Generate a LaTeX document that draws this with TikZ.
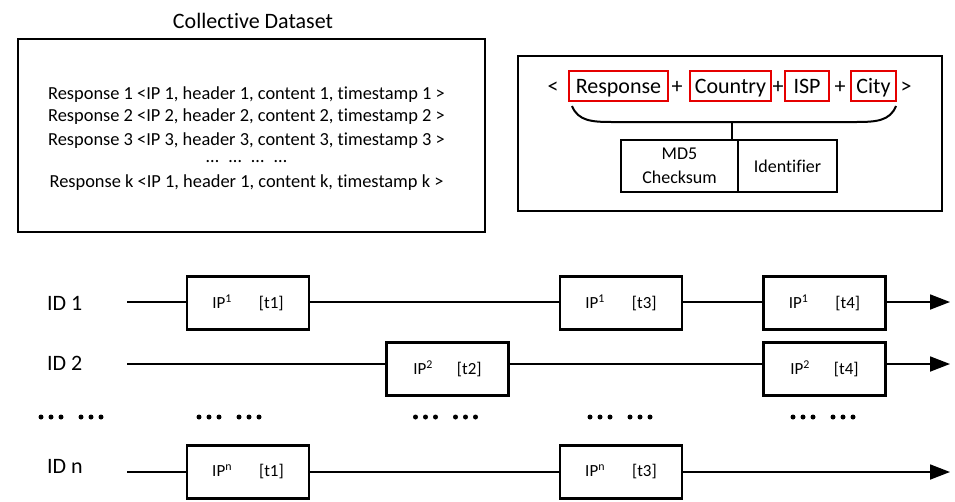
\documentclass[tikz,border=0pt]{standalone}
\usepackage{fontspec}
\setmainfont[Ligatures=NoCommon]{Carlito}
\usetikzlibrary{arrows.meta,calc}
\begin{document}
\begin{tikzpicture}[x=1pt,y=-1pt,
  frame/.style={draw,line width=2.8pt,inner sep=0pt},
  cell/.style={draw,line width=2.4pt,inner sep=0pt,minimum height=52pt,
    font=\fontsize{18}{24}\selectfont,align=center},
  redbox/.style={draw=red!90!black,line width=2pt,inner sep=0pt,minimum height=30pt,
    font=\fontsize{22}{26}\selectfont,text height=16pt,text depth=2pt},
  sym/.style={inner sep=0pt,font=\fontsize{22}{26}\selectfont,text height=16pt,text depth=2pt},
  resp/.style={anchor=base,inner sep=0pt,font=\fontsize{18.4}{22}\selectfont},
  idlab/.style={anchor=base west,inner sep=0pt,font=\fontsize{22}{26}\selectfont},
  tbox/.style={draw,line width=2.6pt,inner sep=0pt,minimum width=122pt,minimum height=53pt,
    font=\fontsize{17}{20}\selectfont},
  tline/.style={line width=1.8pt},
  tarrow/.style={line width=1.8pt,-{Triangle[length=20pt,width=15pt]}}
]
\useasboundingbox (0,0) rectangle (955,501);

% ---------- collective dataset ----------
\node[anchor=base,inner sep=0pt,font=\fontsize{22}{26}\selectfont] (title) at (253,28) {Collective Dataset};
\node[frame,minimum width=467pt,minimum height=193pt] (ds) at (251.5,135.5) {};
\node[resp] (r1) at (246.5,99)  {Response 1 <IP 1, header 1, content 1, timestamp 1 >};
\node[resp] (r2) at (246.5,121.5) {Response 2 <IP 2, header 2, content 2, timestamp 2 >};
\node[resp] (r3) at (246.5,145) {Response 3 <IP 3, header 3, content 3, timestamp 3 >};
\node[resp,text height=3pt,text depth=0pt] (rd) at (246.5,162) {…\hspace{10pt}…\hspace{10pt}…\hspace{10pt}…};
\node[resp] (rk) at (246.5,187) {Response k <IP 1, header 1, content k, timestamp k >};

% ---------- identifier construction ----------
\node[frame,minimum width=424pt,minimum height=155pt] (key) at (730,133.5) {};
\node[sym] (lt) at (553,86) {<};
\node[redbox,minimum width=99pt] (fresp) at (618.5,86) {Response};
\node[sym] (p1) at (677,86) {+};
\node[redbox,minimum width=81pt] (fcountry) at (730.5,86) {Country};
\node[sym] (p2) at (778,86) {+};
\node[redbox,minimum width=44pt] (fisp) at (807,86) {ISP};
\node[sym] (p3) at (840,86) {+};
\node[redbox,minimum width=45pt] (fcity) at (873.5,86) {City};
\node[sym] (gt) at (906,86) {>};

\node[cell,minimum width=117pt] (md5) at (679.5,166) {MD5\\Checksum};
\node[cell,minimum width=99pt] (ident) at (787.5,166) {Identifier};

\coordinate (bl) at (572,106);
\coordinate (br) at (896,106);
\coordinate (stem) at (732,122);
\draw[line width=2pt] (bl) .. controls (578,121) and (592,122) .. (612,122)
  -- (856,122) .. controls (876,122) and (890,121) .. (br);
\draw[line width=2pt] (stem) -- (stem |- md5.north);

% ---------- timelines ----------
\node[idlab] (id1) at (47,310) {ID 1};
\node[idlab] (id2) at (47,370) {ID 2};
\node[idlab] (idn) at (47,473) {ID n};

\coordinate (s1) at (127,302);
\coordinate (e1) at (950,302);
\coordinate (s2) at (127,364);
\coordinate (e2) at (950,364);
\coordinate (sn) at (127,472);
\coordinate (en) at (950,472);

\node[tbox] (b11) at (248,303) {IP\textsuperscript{1}\hspace{27pt}[t1]};
\node[tbox] (b12) at (621,303) {IP\textsuperscript{1}\hspace{27pt}[t3]};
\node[tbox] (b13) at (824.5,303) {IP\textsuperscript{1}\hspace{27pt}[t4]};

\node[tbox] (b21) at (447.5,369) {IP\textsuperscript{2}\hspace{24pt}[t2]};
\node[tbox] (b22) at (824.5,369) {IP\textsuperscript{2}\hspace{24pt}[t4]};

\node[tbox] (bn1) at (248,472) {IP\textsuperscript{n}\hspace{27pt}[t1]};
\node[tbox] (bn2) at (621,472) {IP\textsuperscript{n}\hspace{27pt}[t3]};

\draw[tline] (s1) -- (s1 -| b11.west);
\draw[tline] (b11.east |- s1) -- (b12.west |- s1);
\draw[tline] (b12.east |- s1) -- (b13.west |- s1);
\draw[tarrow] (b13.east |- s1) -- (e1);

\draw[tline] (s2) -- (s2 -| b21.west);
\draw[tline] (b21.east |- s2) -- (b22.west |- s2);
\draw[tarrow] (b22.east |- s2) -- (e2);

\draw[tline] (sn) -- (sn -| bn1.west);
\draw[tline] (bn1.east |- sn) -- (bn2.west |- sn);
\draw[tarrow] (bn2.east |- sn) -- (en);

% rows of dots between ID 2 and ID n
\foreach \x in {41,199,415.5,590,793}
  \foreach \d in {0,10,20,40,50,60}
    \fill (\x+\d,417) circle (2.5pt);
\end{tikzpicture}
\end{document}
